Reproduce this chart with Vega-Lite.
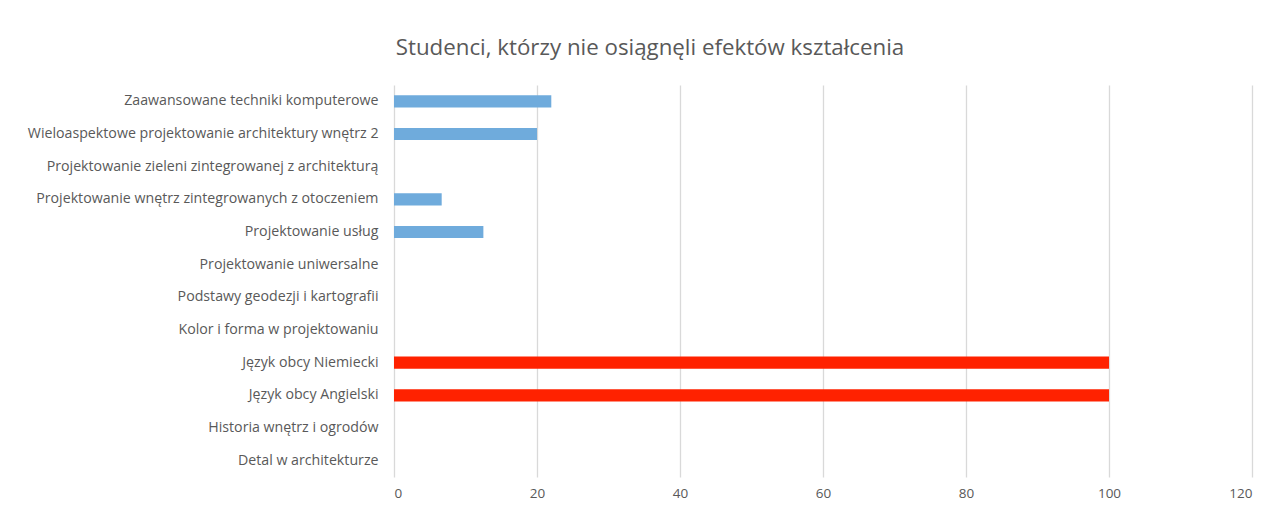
{
  "$schema": "https://vega.github.io/schema/vega-lite/v6.json",
  "width": 858,
  "height": 392,
  "autosize": {"type": "none"},
  "padding": {"left": 394, "top": 85, "right": 23, "bottom": 31},
  "background": "white",
  "title": {
    "text": "Studenci, którzy nie osiągnęli efektów kształcenia",
    "anchor": "middle",
    "frame": "group",
    "dx": -173,
    "offset": 26,
    "font": "Open Sans",
    "fontSize": 22.3,
    "fontWeight": "normal",
    "color": "#595959"
  },
  "data": {
    "values": [
      {"przedmiot": "Zaawansowane techniki komputerowe", "wartosc": 22, "grupa": "a"},
      {"przedmiot": "Wieloaspektowe projektowanie architektury wnętrz 2", "wartosc": 20, "grupa": "a"},
      {"przedmiot": "Projektowanie zieleni zintegrowanej z architekturą", "wartosc": 0, "grupa": "a"},
      {"przedmiot": "Projektowanie wnętrz zintegrowanych z otoczeniem", "wartosc": 6.67, "grupa": "a"},
      {"przedmiot": "Projektowanie usług", "wartosc": 12.5, "grupa": "a"},
      {"przedmiot": "Projektowanie uniwersalne", "wartosc": 0, "grupa": "a"},
      {"przedmiot": "Podstawy geodezji i kartografii", "wartosc": 0, "grupa": "a"},
      {"przedmiot": "Kolor i forma w projektowaniu", "wartosc": 0, "grupa": "a"},
      {"przedmiot": "Język obcy Niemiecki", "wartosc": 100, "grupa": "b"},
      {"przedmiot": "Język obcy Angielski", "wartosc": 100, "grupa": "b"},
      {"przedmiot": "Historia wnętrz i ogrodów", "wartosc": 0, "grupa": "a"},
      {"przedmiot": "Detal w architekturze", "wartosc": 0, "grupa": "a"}
    ]
  },
  "mark": {"type": "bar"},
  "encoding": {
    "y": {
      "field": "przedmiot",
      "type": "nominal",
      "sort": null,
      "scale": {"paddingInner": 0.63, "paddingOuter": 0.315},
      "axis": {
        "title": null,
        "domain": false,
        "ticks": false,
        "labelPadding": 16,
        "labelFont": "Open Sans",
        "labelFontSize": 14.2,
        "labelColor": "#595959",
        "labelLimit": 400
      }
    },
    "x": {
      "field": "wartosc",
      "type": "quantitative",
      "scale": {"domain": [0, 120], "nice": false},
      "axis": {
        "title": null,
        "values": [0, 20, 40, 60, 80, 100, 120],
        "domain": false,
        "ticks": false,
        "grid": true,
        "gridColor": "#d9d9d9",
        "gridWidth": 1.3,
        "labelPadding": 9,
        "labelFont": "Open Sans",
        "labelFontSize": 13.5,
        "labelColor": "#595959"
      }
    },
    "color": {
      "field": "grupa",
      "type": "nominal",
      "scale": {"domain": ["a", "b"], "range": ["#6fabdc", "#ff2200"]},
      "legend": null
    }
  },
  "config": {"view": {"stroke": null}}
}
